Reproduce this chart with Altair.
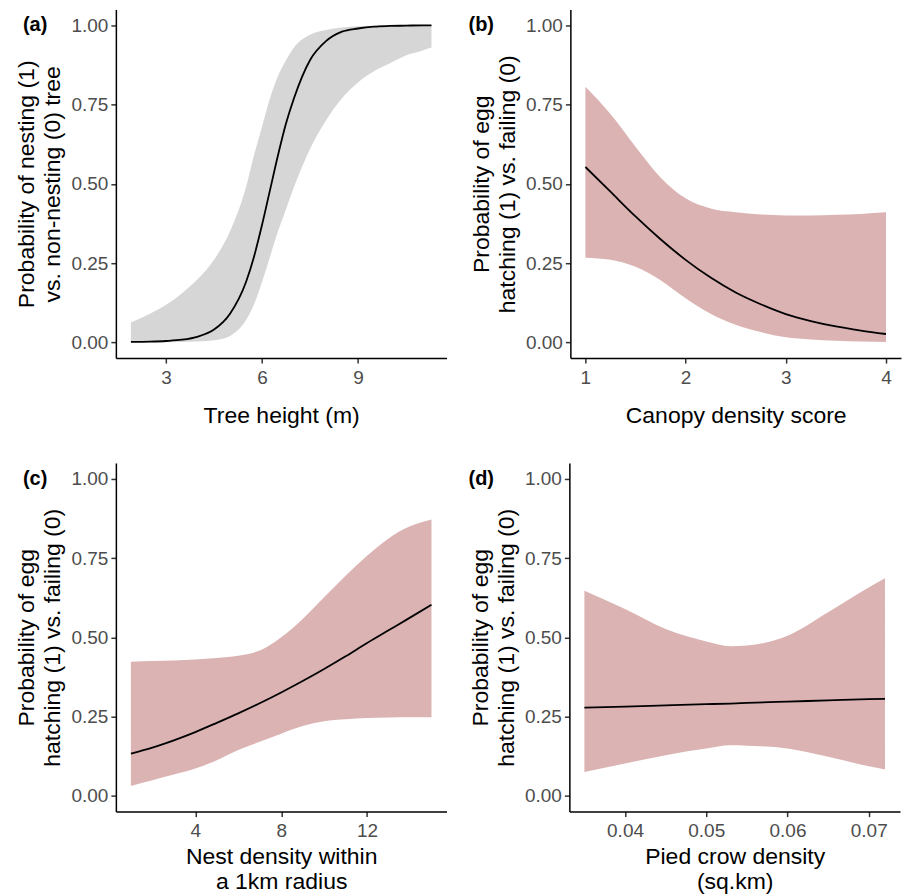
import altair as alt
import pandas as pd

# ---------------- data ----------------
a_x = [1.9, 2.5, 3.0, 3.5, 4.0, 4.5, 5.0, 5.5, 5.75, 6.0, 6.25, 6.5, 6.75, 7.0, 7.5, 8.0, 8.5, 9.0, 9.5, 10.0, 10.5, 11.0, 11.3]
a_fit = [0.001, 0.002, 0.004, 0.008, 0.018, 0.040, 0.090, 0.190, 0.270, 0.370, 0.480, 0.590, 0.690, 0.770, 0.890, 0.950, 0.980, 0.990, 0.996, 0.998, 0.999, 1.000, 1.000]
a_hi = [0.062, 0.090, 0.118, 0.155, 0.200, 0.260, 0.350, 0.490, 0.590, 0.680, 0.770, 0.840, 0.890, 0.930, 0.970, 0.985, 0.993, 0.997, 0.999, 1.000, 1.000, 1.000, 1.000]
a_lo = [0.000, 0.000, 0.000, 0.001, 0.002, 0.006, 0.020, 0.070, 0.120, 0.190, 0.270, 0.350, 0.420, 0.490, 0.610, 0.700, 0.770, 0.820, 0.855, 0.880, 0.905, 0.920, 0.930]

b_x = [1.0, 1.25, 1.5, 1.75, 2.0, 2.25, 2.5, 2.75, 3.0, 3.25, 3.5, 3.75, 4.0]
b_fit = [0.553, 0.475, 0.397, 0.325, 0.260, 0.204, 0.157, 0.120, 0.089, 0.067, 0.050, 0.037, 0.026]
b_hi = [0.806, 0.720, 0.617, 0.520, 0.454, 0.422, 0.410, 0.403, 0.400, 0.400, 0.402, 0.405, 0.410]
b_lo = [0.267, 0.260, 0.238, 0.196, 0.139, 0.090, 0.055, 0.032, 0.016, 0.009, 0.005, 0.002, 0.001]

c_x = [1, 2, 3, 4, 5, 6, 7, 8, 9, 10, 11, 12, 13, 14, 15]
c_fit = [0.133, 0.152, 0.175, 0.201, 0.230, 0.260, 0.292, 0.326, 0.362, 0.400, 0.440, 0.482, 0.522, 0.562, 0.603]
c_hi = [0.423, 0.425, 0.427, 0.430, 0.435, 0.442, 0.458, 0.500, 0.558, 0.626, 0.694, 0.757, 0.812, 0.850, 0.872]
c_lo = [0.031, 0.049, 0.067, 0.086, 0.112, 0.144, 0.170, 0.196, 0.220, 0.235, 0.241, 0.245, 0.247, 0.248, 0.248]

d_x = [0.035, 0.040, 0.045, 0.050, 0.053, 0.055, 0.060, 0.065, 0.070, 0.072]
d_fit = [0.278, 0.281, 0.285, 0.289, 0.291, 0.293, 0.297, 0.301, 0.305, 0.306]
d_hi = [0.647, 0.589, 0.526, 0.487, 0.472, 0.474, 0.505, 0.579, 0.657, 0.686]
d_lo = [0.075, 0.102, 0.128, 0.149, 0.159, 0.158, 0.149, 0.123, 0.093, 0.083]

y_ticks = [0.0, 0.25, 0.5, 0.75, 1.0]
title_a_y = ["Probability of nesting (1)", "vs. non-nesting (0) tree"]
title_egg_y = ["Probability of egg", "hatching (1) vs. failing (0)"]

FONT = "Liberation Sans"
PINK = "#DBB3B3"
GRAY = "#D6D6D6"
W, H = 331, 349


def panel(x, fit, lo, hi, fill, xdom, xticks, xfmt, xtitle, ytitle, label, label_x, xpad):
    df = pd.DataFrame({"x": x, "fit": fit, "lo": lo, "hi": hi})
    xs = alt.Scale(domain=xdom, nice=False, zero=False)
    ys = alt.Scale(domain=[-0.05, 1.05], nice=False, zero=False)
    xax = alt.Axis(values=xticks, format=xfmt, title=xtitle, titlePadding=xpad,
                   titleLineHeight=25, labelPadding=5)
    yax = alt.Axis(values=y_ticks, format=".2f", title=ytitle, titlePadding=6,
                   titleLineHeight=26, labelPadding=3)
    base = alt.Chart(df)
    band = base.mark_area(color=fill, opacity=1, interpolate="monotone").encode(
        x=alt.X("x:Q", scale=xs, axis=xax),
        y=alt.Y("lo:Q", scale=ys, axis=yax),
        y2="hi:Q",
    )
    line = base.mark_line(color="black", strokeWidth=1.8, interpolate="monotone").encode(
        x=alt.X("x:Q", scale=xs),
        y=alt.Y("fit:Q", scale=ys),
    )
    lab = alt.Chart(pd.DataFrame({"t": [label]})).mark_text(
        font=FONT, fontWeight="bold", fontSize=20, align="left", baseline="middle", color="black"
    ).encode(text="t:N", x=alt.value(label_x), y=alt.value(16))
    return alt.layer(band, line, lab).properties(width=W, height=H)


pa = panel(a_x, a_fit, a_lo, a_hi, GRAY, [1.43, 11.77], [3, 6, 9], "d",
           "Tree height (m)", title_a_y, "(a)", -93, 17)
pb = panel(b_x, b_fit, b_lo, b_hi, PINK, [0.85, 4.15], [1, 2, 3, 4], "d",
           "Canopy density score", title_egg_y, "(b)", -102, 17)
pc = panel(c_x, c_fit, c_lo, c_hi, PINK, [0.3, 15.7], [4, 8, 12], "d",
           ["Nest density within", "a 1km radius"], title_egg_y, "(c)", -93, 5)
pd_ = panel(d_x, d_fit, d_lo, d_hi, PINK, [0.03315, 0.07385], [0.04, 0.05, 0.06, 0.07], ".2f",
            ["Pied crow density", "(sq.km)"], title_egg_y, "(d)", -101, 5)

chart = alt.vconcat(
    alt.hconcat(pa, pb, spacing=22),
    alt.hconcat(pc, pd_, spacing=22),
    spacing=36,
).properties(
    padding={"left": 16, "top": 9, "right": 5, "bottom": 0},
    background="white",
).configure_view(stroke=None).configure_axis(
    grid=False,
    domainColor="black",
    domainWidth=1.5,
    tickColor="#333333",
    tickWidth=1.5,
    tickSize=5,
    labelColor="#4D4D4D",
    labelFont=FONT,
    labelFontSize=19,
    titleFont=FONT,
    titleFontSize=23,
    titleFontWeight="normal",
    titleColor="black",
)

chart.save("out.html", embed_options={"renderer": "svg", "actions": False})
